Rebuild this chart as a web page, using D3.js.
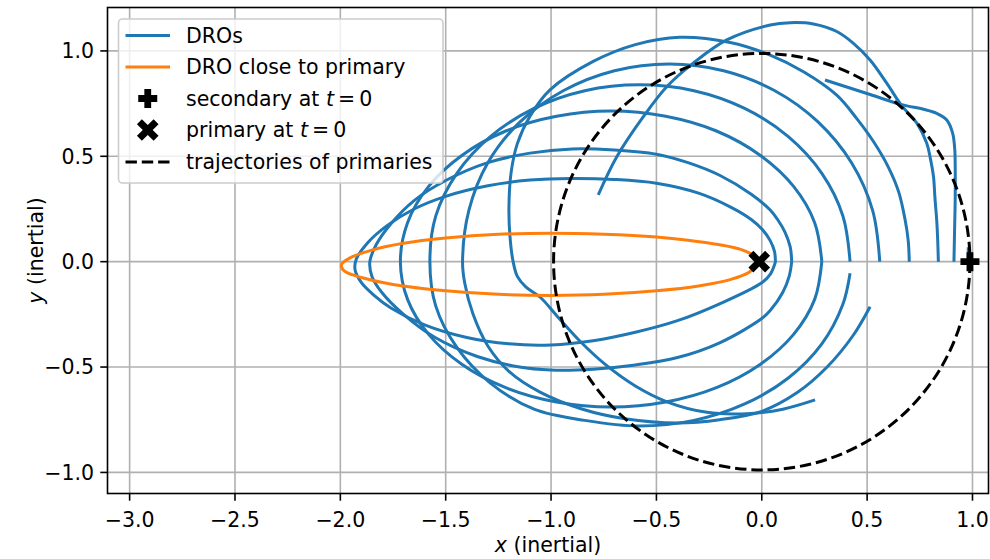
<!DOCTYPE html>
<html>
<head>
<meta charset="utf-8">
<script src="https://cdn.jsdelivr.net/npm/d3@7"></script>
<style>
  html, body { margin: 0; padding: 0; background: #fff; }
  svg { display: block; }
  text { font-family: "DejaVu Sans", sans-serif; fill: #000; }
</style>
</head>
<body>
<svg id="chart" width="990" height="559"></svg>
<script>
// ---------------- data ----------------
const xTickValues = [-3.0, -2.5, -2.0, -1.5, -1.0, -0.5, 0.0, 0.5, 1.0];
const yTickValues = [-1.0, -0.5, 0.0, 0.5, 1.0];
const xDomain = [-3.105, 1.076];
const yDomain = [-1.100, 1.206];

const secondaryAtT0 = [0.988, 0.0];
const primaryAtT0 = [-0.012, 0.0];
const primaryOrbitRadius = 0.988;

const droCloseToPrimary = [
  [-0.012,0.0],[-0.04,0.03],[-0.1,0.058],[-0.2,0.08],[-0.35,0.102],[-0.5,0.117],[-0.75,0.13],
  [-1.0,0.135],[-1.25,0.13],[-1.5,0.112],[-1.7,0.087],[-1.85,0.055],[-1.95,0.02],[-1.995,-0.015],
  [-1.98,-0.045],[-1.9,-0.075],[-1.75,-0.108],[-1.5,-0.138],[-1.25,-0.155],[-1.0,-0.16],
  [-0.75,-0.155],[-0.5,-0.138],[-0.3,-0.115],[-0.15,-0.085],[-0.06,-0.05],[-0.012,0.0]
];

const dro1 = [
  [0.065,0.0],[0.06,0.05],[0.04,0.1],[0.005,0.15],[-0.05,0.2],[-0.15,0.26],[-0.3,0.325],[-0.5,0.372],
  [-0.7,0.39],[-0.9,0.395],[-1.1,0.387],[-1.3,0.36],[-1.5,0.31],[-1.65,0.25],[-1.78,0.17],[-1.87,0.09],
  [-1.925,0.01],[-1.93,-0.04],[-1.9,-0.1],[-1.84,-0.16],[-1.76,-0.22],[-1.6,-0.3],[-1.4,-0.36],
  [-1.2,-0.39],[-1.0,-0.395],[-0.8,-0.375],[-0.6,-0.335],[-0.4,-0.28],[-0.2,-0.2],[0.0,-0.1],
  [0.04,-0.06],[0.062,-0.01],[0.065,0.0]
];

const dro2 = [
  [0.142,0.0],[0.135,0.07],[0.11,0.14],[0.075,0.2],[0.04,0.245],[-0.05,0.32],[-0.2,0.41],[-0.35,0.47],
  [-0.5,0.51],[-0.7,0.53],[-0.9,0.535],[-1.1,0.515],[-1.3,0.47],[-1.5,0.385],[-1.65,0.29],[-1.76,0.18],
  [-1.83,0.08],[-1.86,0.0],[-1.85,-0.07],[-1.8,-0.15],[-1.7,-0.25],[-1.55,-0.36],[-1.35,-0.45],
  [-1.15,-0.5],[-1.0,-0.514],[-0.8,-0.51],[-0.6,-0.49],[-0.4,-0.455],[-0.2,-0.385],[0.0,-0.27],
  [0.04,-0.232],[0.1,-0.145],[0.13,-0.07],[0.142,0.0]
];

const dro3 = [
  [0.285,0.0],[0.251,0.185],[0.151,0.357],[-0.008,0.505],[-0.215,0.62],[-0.456,0.69],[-0.715,0.715],
  [-0.974,0.69],[-1.215,0.62],[-1.422,0.505],[-1.581,0.357],[-1.681,0.185],[-1.715,0.0],
  [-1.681,-0.179],[-1.581,-0.345],[-1.422,-0.488],[-1.215,-0.598],[-0.974,-0.666],[-0.715,-0.69],
  [-0.456,-0.666],[-0.215,-0.598],[-0.008,-0.488],[0.151,-0.345],[0.251,-0.179],[0.285,0.0]
];

const dro4 = [
  [0.419,0.0],[0.385,0.217],[0.285,0.419],[0.126,0.593],[-0.081,0.727],[-0.322,0.811],[-0.581,0.839],
  [-0.84,0.811],[-1.081,0.727],[-1.288,0.593],[-1.447,0.419],[-1.547,0.217],[-1.575,0.0],
  [-1.547,-0.211],[-1.447,-0.407],[-1.288,-0.576],[-1.081,-0.7],[-0.84,-0.753],[-0.581,-0.78],
  [-0.322,-0.753],[-0.081,-0.675],[0.126,-0.552],[0.285,-0.39],[0.385,-0.202],[0.419,-0.055]
];

const dro5 = [
  [0.56,0.0],[0.526,0.243],[0.426,0.469],[0.267,0.663],[0.06,0.812],[-0.181,0.906],[-0.44,0.938],
  [-0.699,0.906],[-0.94,0.812],[-1.147,0.663],[-1.3,0.469],[-1.39,0.243],[-1.42,0.0],
  [-1.41,-0.1],[-1.37,-0.25],[-1.3,-0.4],[-1.2,-0.52],[-1.05,-0.62],[-0.85,-0.7],[-0.65,-0.745],
  [-0.4,-0.765],[-0.2,-0.75],[0.0,-0.71],[0.17,-0.62],[0.31,-0.5],[0.435,-0.348],[0.514,-0.214]
];

const dro6 = [
  [0.70,0.0],[0.695,0.1],[0.68,0.2],[0.65,0.33],[0.6,0.45],[0.53,0.57],[0.45,0.68],[0.356,0.79],
  [0.2,0.9],[0.04,0.98],[-0.15,1.04],[-0.39,1.065],[-0.6,1.03],[-0.8,0.95],[-1.005,0.815],
  [-1.1,0.69],[-1.16,0.56],[-1.19,0.42],[-1.2,0.25],[-1.195,0.12],[-1.18,0.0],[-1.16,-0.07],
  [-1.12,-0.12],[-1.05,-0.17],[-0.97,-0.26],[-0.86,-0.38],[-0.74,-0.49],[-0.6,-0.59],
  [-0.45,-0.665],[-0.26,-0.715],[-0.05,-0.72],[0.1,-0.7],[0.253,-0.656]
];

const dro7 = [
  [0.838,0.0],[0.835,0.1],[0.83,0.2],[0.822,0.3],[0.815,0.403],[0.8,0.49],[0.783,0.562],[0.736,0.657],
  [0.664,0.74],[0.593,0.847],[0.514,0.957],[0.435,1.036],[0.356,1.092],[0.245,1.128],[0.134,1.134],
  [0.04,1.123],[-0.166,1.052],[-0.325,0.942],[-0.451,0.83],[-0.562,0.688],[-0.688,0.498],[-0.776,0.317]
];

const dro8 = [
  [0.912,0.0],[0.915,0.15],[0.918,0.3],[0.918,0.45],[0.916,0.53],[0.906,0.609],[0.878,0.672],
  [0.83,0.704],[0.767,0.723],[0.664,0.745],[0.514,0.793],[0.30,0.862]
];

const dro9 = [[0.979,0.0],[0.98,0.035],[0.98,0.068]];

const droFamily = [dro1, dro2, dro3, dro4, dro5, dro6, dro7, dro8, dro9];

const legendLabels = ["DROs", "DRO close to primary", "secondary at ", "primary at ", "trajectories of primaries"];

// ---------------- drawing ----------------
const plot = { left: 107.5, right: 988.5, top: 7.5, bottom: 493.5 };
const BLUE = "#1f77b4", ORANGE = "#ff7f0e";
const FS = 20.5, LW = 3.0, TICK = 7.2, AXW = 1.6;
const DASH = "11.4,4.9";

const svg = d3.select("#chart");
const x = d3.scaleLinear().domain(xDomain).range([plot.left, plot.right]);
const y = d3.scaleLinear().domain(yDomain).range([plot.bottom, plot.top]);

svg.append("defs").append("clipPath").attr("id", "clip")
  .append("rect").attr("x", plot.left).attr("y", plot.top)
  .attr("width", plot.right - plot.left).attr("height", plot.bottom - plot.top);

// grid
const grid = svg.append("g");
grid.selectAll("line.gx").data(xTickValues).join("line")
  .attr("x1", d => x(d)).attr("x2", d => x(d))
  .attr("y1", plot.top).attr("y2", plot.bottom)
  .attr("stroke", "#b0b0b0").attr("stroke-width", AXW);
grid.selectAll("line.gy").data(yTickValues).join("line")
  .attr("y1", d => y(d)).attr("y2", d => y(d))
  .attr("x1", plot.left).attr("x2", plot.right)
  .attr("stroke", "#b0b0b0").attr("stroke-width", AXW);

const marks = svg.append("g").attr("clip-path", "url(#clip)");
const line = d3.line().x(d => x(d[0])).y(d => y(d[1])).curve(d3.curveCatmullRom.alpha(0.5));

marks.selectAll("path.dro").data(droFamily).join("path")
  .attr("d", line).attr("fill", "none").attr("stroke", BLUE)
  .attr("stroke-width", LW).attr("stroke-linecap", "butt").attr("stroke-linejoin", "round");

marks.append("path").datum(droCloseToPrimary)
  .attr("d", line).attr("fill", "none").attr("stroke", ORANGE)
  .attr("stroke-width", LW).attr("stroke-linejoin", "round");

// primaries' trajectory (dashed circle)
marks.append("ellipse")
  .attr("cx", x(0)).attr("cy", y(0))
  .attr("rx", x(primaryOrbitRadius) - x(0)).attr("ry", y(0) - y(primaryOrbitRadius))
  .attr("fill", "none").attr("stroke", "#000").attr("stroke-width", LW)
  .attr("stroke-dasharray", DASH);

function plusPath(s, t) {
  return `M${-t},${-s}H${t}V${-t}H${s}V${t}H${t}V${s}H${-t}V${t}H${-s}V${-t}H${-t}Z`;
}
function drawPlus(g, cx, cy) {
  g.append("path").attr("d", plusPath(9.5, 3.4))
    .attr("transform", `translate(${cx},${cy})`).attr("fill", "#000");
}
function drawX(g, cx, cy) {
  g.append("path").attr("d", plusPath(11.8, 3.5))
    .attr("transform", `translate(${cx},${cy}) rotate(45)`).attr("fill", "#000");
}
drawPlus(svg, x(secondaryAtT0[0]), y(secondaryAtT0[1]));
drawX(svg, x(primaryAtT0[0]), y(primaryAtT0[1]));

// axes
const axes = svg.append("g");
axes.append("rect").attr("x", plot.left).attr("y", plot.top)
  .attr("width", plot.right - plot.left).attr("height", plot.bottom - plot.top)
  .attr("fill", "none").attr("stroke", "#000").attr("stroke-width", AXW);

const fmt = d => (d < 0 ? "\u2212" : "") + Math.abs(d).toFixed(1);
axes.selectAll("line.tx").data(xTickValues).join("line")
  .attr("x1", d => x(d)).attr("x2", d => x(d))
  .attr("y1", plot.bottom).attr("y2", plot.bottom + TICK)
  .attr("stroke", "#000").attr("stroke-width", AXW);
axes.selectAll("text.tx").data(xTickValues).join("text")
  .attr("x", d => x(d)).attr("y", 527).attr("text-anchor", "middle")
  .attr("font-size", FS).text(fmt);
axes.selectAll("line.ty").data(yTickValues).join("line")
  .attr("y1", d => y(d)).attr("y2", d => y(d))
  .attr("x1", plot.left - TICK).attr("x2", plot.left)
  .attr("stroke", "#000").attr("stroke-width", AXW);
axes.selectAll("text.ty").data(yTickValues).join("text")
  .attr("x", 94).attr("y", d => y(d)).attr("dy", "0.36em").attr("text-anchor", "end")
  .attr("font-size", FS).text(fmt);

const xl = axes.append("text").attr("x", (plot.left + plot.right) / 2).attr("y", 552)
  .attr("text-anchor", "middle").attr("font-size", FS);
xl.append("tspan").attr("font-style", "italic").text("x");
xl.append("tspan").text(" (inertial)");
const yl = axes.append("text")
  .attr("transform", `translate(43,${(plot.top + plot.bottom) / 2}) rotate(-90)`)
  .attr("text-anchor", "middle").attr("font-size", FS);
yl.append("tspan").attr("font-style", "italic").text("y");
yl.append("tspan").text(" (inertial)");

// legend
const lg = svg.append("g");
lg.append("rect").attr("x", 118.5).attr("y", 19).attr("width", 324.5).attr("height", 164)
  .attr("rx", 4).attr("fill", "#fff").attr("fill-opacity", 0.8)
  .attr("stroke", "#cccccc").attr("stroke-width", AXW);
const rowY = [35.5, 67, 98.5, 130, 162];
const hx0 = 125.5, hx1 = 170, tx = 186;
lg.append("line").attr("x1", hx0).attr("x2", hx1).attr("y1", rowY[0]).attr("y2", rowY[0])
  .attr("stroke", BLUE).attr("stroke-width", LW);
lg.append("line").attr("x1", hx0).attr("x2", hx1).attr("y1", rowY[1]).attr("y2", rowY[1])
  .attr("stroke", ORANGE).attr("stroke-width", LW);
drawPlus(lg, (hx0 + hx1) / 2, rowY[2]);
drawX(lg, (hx0 + hx1) / 2, rowY[3]);
lg.append("line").attr("x1", hx0).attr("x2", hx1).attr("y1", rowY[4]).attr("y2", rowY[4])
  .attr("stroke", "#000").attr("stroke-width", LW).attr("stroke-dasharray", DASH);
legendLabels.forEach((lab, i) => {
  const t = lg.append("text").attr("x", tx).attr("y", rowY[i]).attr("dy", "0.36em").attr("font-size", FS);
  t.append("tspan").text(lab);
  if (i === 2 || i === 3) {
    t.append("tspan").attr("font-style", "italic").text("t");
    t.append("tspan").text("\u2009=\u20090");
  }
});
</script>
</body>
</html>
